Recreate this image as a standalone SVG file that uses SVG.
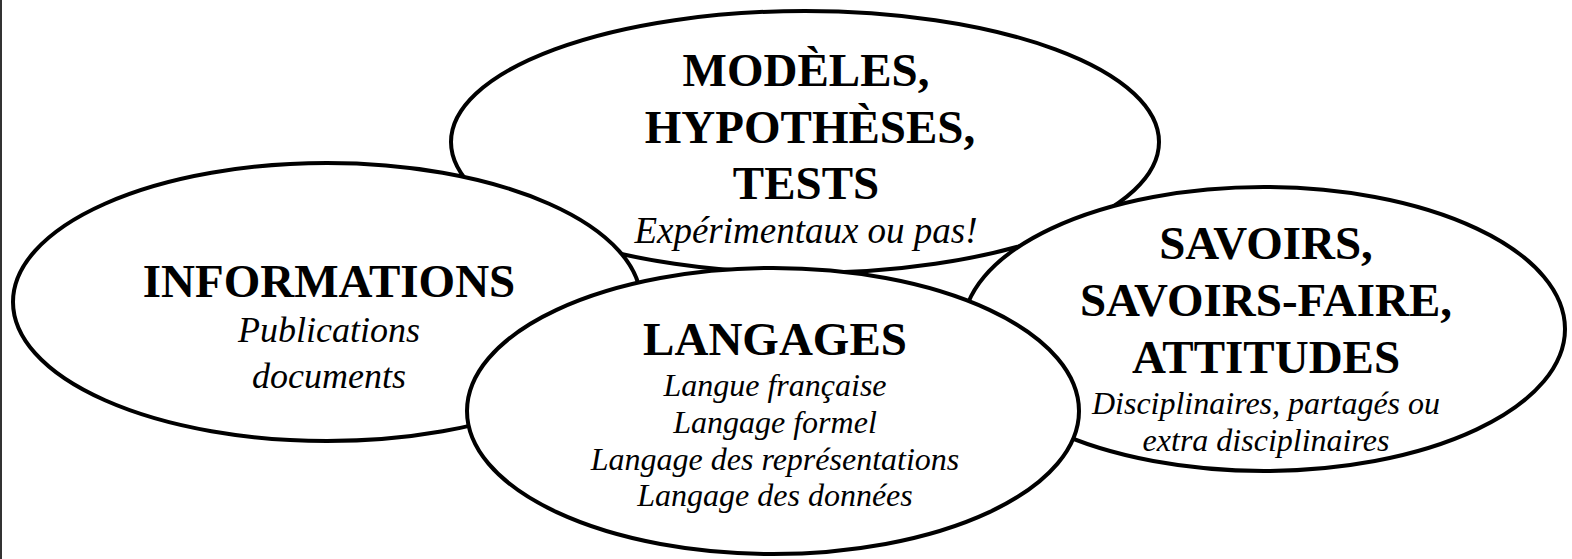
<svg xmlns="http://www.w3.org/2000/svg" width="1572" height="559" viewBox="0 0 1572 559">
<style>
.e{fill:#fff;stroke:#000;stroke-width:4}
.h{font-family:"Liberation Serif","Times New Roman",serif;font-weight:bold;font-size:47px;text-anchor:middle;fill:#000}
.s{font-family:"Liberation Serif","Times New Roman",serif;font-style:italic;font-size:32px;text-anchor:middle;fill:#000}
</style>
<rect width="1572" height="559" fill="#fff"/>
<line x1="1" y1="0" x2="1" y2="559" stroke="#333" stroke-width="2"/>
<g id="connectors"></g>
<g id="modeles">
<ellipse class="e" cx="805" cy="142" rx="354" ry="131"/>
<text class="h" x="806" y="86">MODÈLES,</text>
<text class="h" x="810" y="143">HYPOTHÈSES,</text>
<text class="h" x="806" y="199">TESTS</text>
<text class="s" x="806" y="243" style="font-size:37px">Expérimentaux ou pas!</text>
</g>
<g id="informations">
<ellipse class="e" cx="327" cy="302" rx="314" ry="139"/>
<text class="h" x="329" y="297">INFORMATIONS</text>
<text class="s" x="329" y="342" style="font-size:36px">Publications</text>
<text class="s" x="329" y="388" style="font-size:36px">documents</text>
</g>
<g id="savoirs">
<ellipse class="e" cx="1264" cy="329" rx="301" ry="142"/>
<text class="h" x="1266" y="259">SAVOIRS,</text>
<text class="h" x="1266" y="316">SAVOIRS-FAIRE,</text>
<text class="h" x="1266" y="373">ATTITUDES</text>
<text class="s" x="1266" y="414">Disciplinaires, partagés ou</text>
<text class="s" x="1266" y="451">extra disciplinaires</text>
</g>
<g id="langages">
<ellipse class="e" cx="773" cy="411" rx="306" ry="143"/>
<text class="h" x="775" y="355">LANGAGES</text>
<text class="s" x="775" y="396">Langue française</text>
<text class="s" x="775" y="433">Langage formel</text>
<text class="s" x="775" y="470">Langage des représentations</text>
<text class="s" x="775" y="506">Langage des données</text>
</g>
</svg>
